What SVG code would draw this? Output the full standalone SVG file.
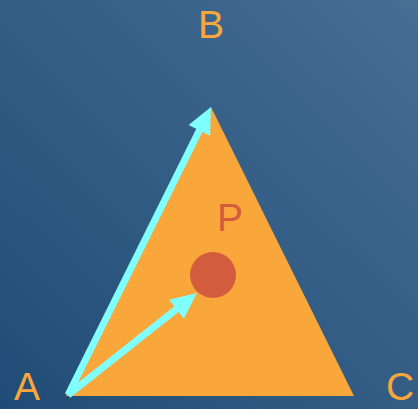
<svg xmlns="http://www.w3.org/2000/svg" width="418" height="409" viewBox="0 0 418 409">
<defs>
<linearGradient id="bg" x1="0" y1="1" x2="1" y2="0">
<stop offset="0" stop-color="#1f4c76"/>
<stop offset="1" stop-color="#476e93"/>
</linearGradient>
<marker id="ah" markerUnits="userSpaceOnUse" markerWidth="34" markerHeight="30" viewBox="0 0 34 30" refX="18" refY="15" orient="auto">
<path d="M2,3 L28,15 L2,27 Z" fill="#80ffff"/>
</marker>
<style>
.lbl{font-family:"Liberation Sans",Arial,sans-serif;font-size:39px;fill:#f9a63a;text-anchor:middle}
.arr{stroke:#80ffff;stroke-width:7;fill:none;stroke-linecap:butt}
</style>
</defs>
<rect width="418" height="409" fill="url(#bg)"/>
<g id="triangle">
<polygon points="211,107 354,396 66,396" fill="#f9a63a"/>
</g>
<g id="P">
<circle cx="213" cy="275" r="23" fill="#d45c3e"/>
<text x="230" y="231" class="lbl" style="fill:#d45c3e">P</text>
</g>
<g id="connectors">
<line class="arr" x1="68" y1="395" x2="206.5" y2="116" marker-end="url(#ah)"/>
<line class="arr" x1="68" y1="395" x2="189" y2="299.3" marker-end="url(#ah)"/>
</g>
<g id="A"><text x="27" y="400" class="lbl">A</text></g>
<g id="B"><text x="211" y="38" class="lbl">B</text></g>
<g id="C"><text x="400" y="400" class="lbl">C</text></g>
</svg>
